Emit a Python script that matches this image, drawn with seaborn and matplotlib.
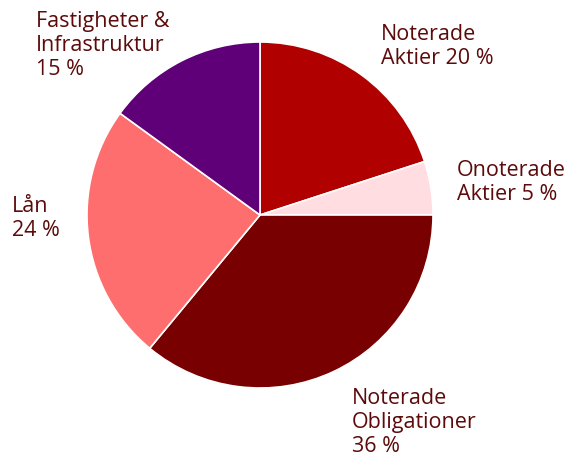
import matplotlib
matplotlib.use("Agg")
import matplotlib.pyplot as plt
import seaborn as sns

sns.set_theme(style="white")
plt.rcParams['font.family'] = ['Open Sans', 'DejaVu Sans']

categories = ["Noterade\nAktier", "Onoterade\nAktier", "Noterade\nObligationer", "Lån", "Fastigheter &\nInfrastruktur"]
values = [20, 5, 36, 24, 15]
label_texts = ["Noterade\nAktier 20 %", "Onoterade\nAktier 5 %", "Noterade\nObligationer\n36 %", "Lån\n24 %", "Fastigheter &\nInfrastruktur\n15 %"]
colors = ["#B00000", "#FFDDE0", "#780000", "#FF6E6E", "#5F0078"]

# layout (pixel positions: left, top)
label_pos = [(381, 24), (457, 160), (352, 388), (12, 196), (36, 11)]
W, H = 566, 457

fig = plt.figure(figsize=(W / 100, H / 100), dpi=100)
ax = fig.add_axes([0, 0, 1, 1])
ax.pie(values, colors=colors, startangle=90, counterclock=False,
       radius=173, center=(260, H - 215),
       wedgeprops=dict(edgecolor="white", linewidth=1.2))
ax.set_xlim(0, W)
ax.set_ylim(0, H)
ax.set_aspect("equal")
ax.axis("off")

for txt, (x, y) in zip(label_texts, label_pos):
    ax.text(x, H - y, txt, ha="left", va="top", fontsize=15.5, fontweight=500,
            color="#5C0A0A", linespacing=1.2)

fig.savefig("out.png", dpi=100)
